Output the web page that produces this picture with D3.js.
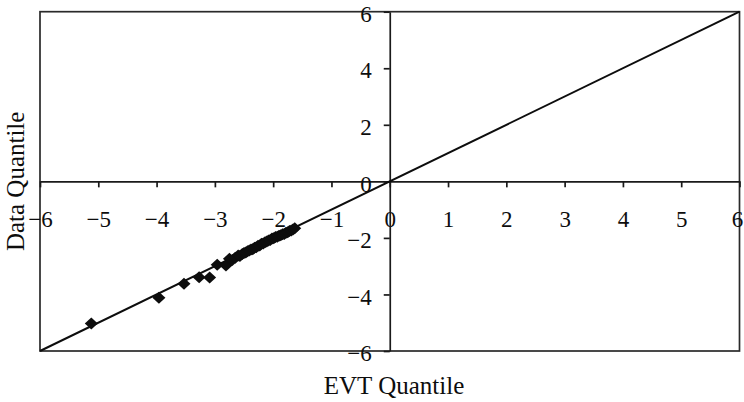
<!DOCTYPE html>
<html>
<head>
<meta charset="utf-8">
<script src="https://cdn.jsdelivr.net/npm/d3@7"></script>
<style>
  html, body { margin: 0; padding: 0; background: #fff; }
  svg { display: block; font-family: "Liberation Serif", "Times New Roman", serif; }
</style>
</head>
<body>
<svg id="chart" width="744" height="402"></svg>
<script>
// Q-Q plot: empirical data quantiles against fitted EVT quantiles
const evtQuantile = [
  -5.12, -3.96, -3.53, -3.27, -3.09, -2.96, -2.81, -2.75, -2.70, -2.65,
  -2.60, -2.57, -2.53, -2.50, -2.47, -2.44, -2.41, -2.38, -2.35, -2.32,
  -2.29, -2.26, -2.23, -2.20, -2.17, -2.14, -2.11, -2.08, -2.05, -2.02,
  -1.99, -1.96, -1.93, -1.90, -1.87, -1.84, -1.81, -1.78, -1.75, -1.72,
  -1.69, -1.66, -1.63
];
const dataQuantile = [
  -5.03, -4.12, -3.62, -3.39, -3.40, -2.95, -2.98, -2.74, -2.78, -2.70,
  -2.62, -2.64, -2.57, -2.53, -2.52, -2.47, -2.45, -2.41, -2.40, -2.35,
  -2.33, -2.28, -2.27, -2.21, -2.20, -2.15, -2.13, -2.09, -2.07, -2.02,
  -2.01, -1.97, -1.96, -1.92, -1.91, -1.87, -1.86, -1.82, -1.80, -1.76,
  -1.74, -1.70, -1.66
];
const axisTicks = [-6, -5, -4, -3, -2, -1, 0, 1, 2, 3, 4, 5, 6];
const yTicks = [-6, -4, -2, 0, 2, 4, 6];
const referenceLine = [[-6, -6], [6, 6]];
const xTitle = "EVT Quantile";
const yTitle = "Data Quantile";

const svg = d3.select("#chart");
const plot = { left: 40, right: 739.5, top: 11.7, bottom: 351 };

const x = d3.scaleLinear().domain([-6, 6]).range([plot.left, plot.right]);
const y = d3.scaleLinear().domain([-6, 6]).range([plot.bottom, plot.top]);

const ink = "#0d0d0d";

// plot frame
svg.append("rect")
  .attr("x", plot.left).attr("y", plot.top)
  .attr("width", plot.right - plot.left).attr("height", plot.bottom - plot.top)
  .attr("fill", "none").attr("stroke", "#2a2a2a").attr("stroke-width", 1.7);

// x axis through y = 0
const xAxis = svg.append("g")
  .attr("transform", `translate(0,${y(0)})`)
  .call(d3.axisBottom(x).tickValues(axisTicks).tickSize(6).tickPadding(23).tickSizeOuter(0));

// y axis through x = 0
const yAxis = svg.append("g")
  .attr("transform", `translate(${x(0)},0)`)
  .call(d3.axisLeft(y).tickValues(yTicks).tickSize(6).tickPadding(12).tickSizeOuter(0));

[xAxis, yAxis].forEach(g => {
  g.select(".domain").attr("stroke", "#1a1a1a").attr("stroke-width", 1.7);
  g.selectAll(".tick line").attr("stroke", "#1a1a1a").attr("stroke-width", 1.7);
  g.selectAll(".tick text")
    .attr("fill", ink)
    .style("font-family", '"Liberation Serif", "Times New Roman", serif')
    .style("font-size", "23px");
});
yAxis.selectAll(".tick text").attr("dy", "0.42em");
// keep the rightmost x label inside the page edge
xAxis.selectAll(".tick text").filter(d => d === 6).attr("dx", -2.5);

// 45-degree reference line
svg.append("path")
  .datum(referenceLine)
  .attr("d", d3.line().x(d => x(d[0])).y(d => y(d[1])))
  .attr("fill", "none").attr("stroke", ink).attr("stroke-width", 2);

// data points as diamonds
const diamond = "M0,-6L6.5,0L0,6L-6.5,0Z";
svg.append("g").selectAll("path")
  .data(evtQuantile.map((v, i) => [v, dataQuantile[i]]))
  .join("path")
  .attr("d", diamond)
  .attr("transform", d => `translate(${x(d[0])},${y(d[1])})`)
  .attr("fill", ink);

// axis titles
svg.append("text")
  .attr("x", 394).attr("y", 394)
  .attr("text-anchor", "middle")
  .attr("fill", ink)
  .style("font-size", "25px")
  .text(xTitle);

svg.append("text")
  .attr("transform", `translate(24,${(plot.top + plot.bottom) / 2}) rotate(-90)`)
  .attr("text-anchor", "middle")
  .attr("fill", ink)
  .style("font-size", "25px")
  .text(yTitle);
</script>
</body>
</html>
